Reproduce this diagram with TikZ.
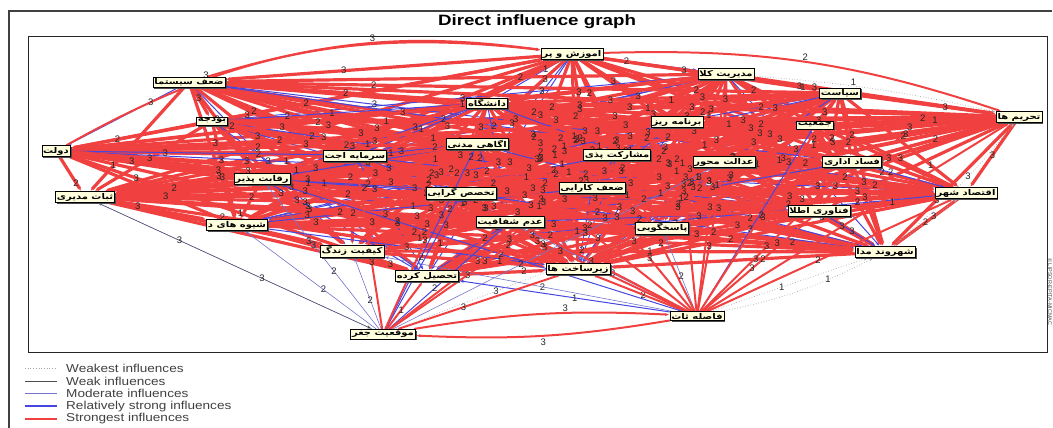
\documentclass[tikz,border=0pt]{standalone}
\usepackage{fontspec}
\usepackage{graphicx}
\setmainfont{Liberation Sans}
\newfontfamily\farsi[Script=Arabic]{DejaVu Sans}
\TeXXeTstate=1
\usetikzlibrary{arrows.meta,shadows,backgrounds}

\definecolor{infred}{RGB}{240,64,64}
\definecolor{infblue}{RGB}{70,70,225}
\definecolor{infmod}{RGB}{115,115,205}
\definecolor{cream}{RGB}{255,255,222}
\newcommand{\fatxt}[1]{\scalebox{1.25}[1]{\farsi\bfseries\beginR #1\endR}}

\tikzset{
  factor/.style={draw, fill=cream, inner sep=1.4pt, font=\fontsize{8}{9}\selectfont,
    drop shadow={shadow xshift=1.5pt, shadow yshift=-1.5pt, fill=black!70, opacity=1}},
  strongest/.style={draw=infred, line width=2pt},
  relstrong/.style={draw=infblue, line width=1pt},
  moderate/.style={draw=infmod, line width=0.6pt},
  weakinf/.style={draw=black!70, line width=0.4pt},
  weakest/.style={draw=black!35, line width=0.7pt, dotted},
  num/.style={font=\fontsize{9.5}{10}\selectfont, text=black!85, inner sep=0pt},
  legtext/.style={font=\fontsize{11.5}{12}\selectfont, text=black!75, inner sep=0pt, anchor=west},
}

\begin{document}
\begin{tikzpicture}[x=1pt, y=1pt, >={Stealth[length=4pt,width=3pt]}, shorten >=1pt]
    \useasboundingbox (0,0) rectangle (1053,-428);
    % frames and title
    \draw[black!75, line width=1.6pt] (9,-428) -- (9,-11) -- (1053,-11);
    \draw[black!85, line width=0.8pt] (28,-36) rectangle (1047,-352);
    \node[font=\bfseries\fontsize{15}{16}\selectfont] (title) at (537,-22) {\scalebox{1.25}[1]{Direct influence graph}};
    \node[rotate=-90, font=\fontsize{5.5}{6}\selectfont, text=black!70] (copy) at (1050,-292) {© LIPSOR-EPITA-MICMAC};

    % factors
    \node[factor]  (1)  at (572,-54)   {\fatxt{اموزش و پر}};
    \node[factor]  (2)  at (726,-74)   {\fatxt{مدیریت کلا}};
    \node[factor]  (3)  at (840,-93)   {\fatxt{سیاست}};
    \node[factor]  (4)  at (1019,-117) {\fatxt{تحریم ها}};
    \node[factor]  (5)  at (189,-82)   {\fatxt{ضعف سیستما}};
    \node[factor]  (6)  at (212,-121)  {\fatxt{بودجه}};
    \node[factor]  (7)  at (487,-103)  {\fatxt{دانشگاه}};
    \node[factor]  (8)  at (677,-122)  {\fatxt{برنامه ریز}};
    \node[factor]  (9)  at (815,-125)  {\fatxt{جمعیت}};
    \node[factor]  (10) at (56,-151)   {\fatxt{دولت}};
    \node[factor]  (11) at (355,-156)  {\fatxt{سرمایه اجت}};
    \node[factor]  (12) at (477,-144)  {\fatxt{اگاهی مدنی}};
    \node[factor]  (13) at (617,-155)  {\fatxt{مشارکت پذی}};
    \node[factor]  (14) at (724,-162)  {\fatxt{عدالت محور}};
    \node[factor]  (15) at (852,-162)  {\fatxt{فساد اداری}};
    \node[factor]  (16) at (262,-179)  {\fatxt{رقابت پذیر}};
    \node[factor]  (17) at (461,-193)  {\fatxt{تخصص گرایی}};
    \node[factor]  (18) at (592,-188)  {\fatxt{ضعف کارایی}};
    \node[factor]  (19) at (85,-197)   {\fatxt{ثبات مدیری}};
    \node[factor]  (20) at (966,-193)  {\fatxt{اقتصاد شهر}};
    \node[factor]  (21) at (510,-222)  {\fatxt{عدم شفافیت}};
    \node[factor]  (22) at (819,-211)  {\fatxt{فناوری اطلا}};
    \node[factor]  (23) at (237,-225)  {\fatxt{شیوه های د}};
    \node[factor]  (24) at (662,-228)  {\fatxt{پاسخگویی}};
    \node[factor]  (25) at (352,-251)  {\fatxt{کیفیت زندگ}};
    \node[factor]  (26) at (885,-252)  {\fatxt{شهروند مدا}};
    \node[factor]  (27) at (427,-276)  {\fatxt{تحصیل کرده}};
    \node[factor]  (28) at (578,-269)  {\fatxt{زیرساخت ها}};
    \node[factor]  (29) at (697,-316)  {\fatxt{فاصله ثات}};
    \node[factor]  (30) at (383,-334)  {\fatxt{موقعیت جغر}};

    \begin{scope}[on background layer]
    % dense core
    \foreach \i in {1,...,27}{
        \pgfmathtruncatemacro{\k}{\i+1}
        \foreach \j in {\k,...,28}{
            \pgfmathtruncatemacro{\c}{mod(\i*\j+\i+\j,5)}
            \ifnum\c=0 \path[->] (\i) edge[relstrong] (\j);
            \else \path[->] (\i) edge[strongest, line width=3.2pt] (\j); \fi
        }
    }
    % outer factors
    \foreach \a/\s/\v in {28/strongest/2, 24/moderate/2, 22/strongest/3, 20/strongest/2,
        18/strongest/3, 21/moderate/3, 13/strongest/2, 14/strongest/3, 15/strongest/3,
        8/strongest/2, 9/relstrong/3, 17/strongest/3, 27/relstrong/1, 25/moderate/2,
        12/strongest/3, 2/strongest/3, 16/relstrong/2, 11/strongest/3, 3/strongest/2,
        4/strongest/3, 26/weakest/1}
        \path[->] (29) edge[\s] node[num,pos=0.45] {\v} (\a);
    \foreach \a/\s/\v in {25/moderate/2, 27/strongest/1, 23/moderate/2, 19/moderate/3,
        28/strongest/3, 17/relstrong/1, 21/relstrong/2, 11/strongest/3, 16/moderate/2,
        18/strongest/3, 13/strongest/3, 12/relstrong/2, 7/strongest/3, 14/moderate/2,
        24/weakest/3}
        \path[->] (30) edge[\s] node[num,pos=0.4] {\v} (\a);
    \path[->] (30) edge[strongest, bend left=6]  node[num,pos=0.6,above] {3} (29)
              (29) edge[strongest, bend left=6]  node[num,below=2pt] {3} (30)
              (5)  edge[strongest, bend left=12] node[num,above,pos=0.5] {3} (1)
              (10) edge[strongest, bend left=18] node[num,above,pos=0.3] {3} (1)
              (1)  edge[strongest, bend left=10] node[num,above] {2} (4)
              (2)  edge[weakest, bend left=4]    node[num,above,pos=0.4] {1} (4)
              (26) edge[weakest]                 node[num] {2} (20)
              (26) edge[weakest, bend right=6]   node[num,pos=0.6] {3} (4)
              (29) edge[weakest, bend right=8]   node[num,pos=0.7] {1} (26)
              (19) edge[weakinf]                 node[num,pos=0.3] {3} (30)
              ;
    % labels
    \foreach \i in {1,...,27}{
        \pgfmathtruncatemacro{\k}{\i+1}
        \foreach \j in {\k,...,28}{
            \pgfmathtruncatemacro{\v}{{3,3,2,3,2,1,3}[mod(\i*5+\j*3,7)]}
            \pgfmathsetmacro{\p}{0.25+0.125*mod(\i*3+\j,5)}
            \path (\i) -- node[num,pos=\p] {\v} (\j);
        }
    }
    \end{scope}

    % legend
    \foreach \s/\t/\w [count=\r] in {weakest/Weakest influences/0.7pt, weakinf/Weak influences/0.5pt,
        moderate/Moderate influences/0.8pt, relstrong/Relatively strong influences/1.8pt,
        strongest/Strongest influences/2.4pt}{
        \draw[\s, line width=\w] (25,-355.5-12.7*\r) -- (58,-355.5-12.7*\r);
        \node[legtext] (leg\r) at (66,-355.5-12.7*\r) {\scalebox{1.18}[1]{\t}};
    }
\end{tikzpicture}
\end{document}
